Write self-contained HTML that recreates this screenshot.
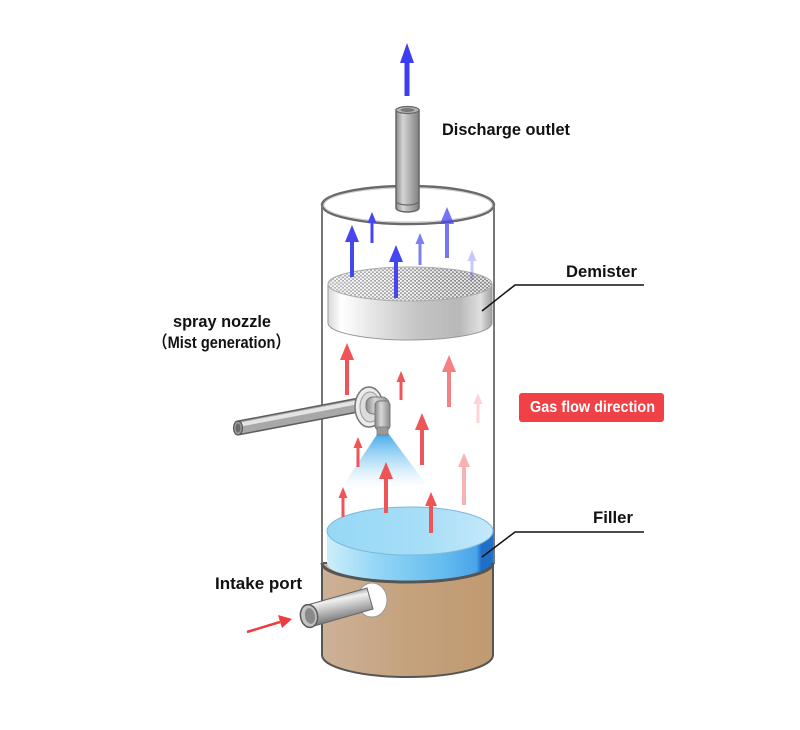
<!DOCTYPE html>
<html>
<head>
<meta charset="utf-8">
<style>
html,body{margin:0;padding:0;background:#fff;}
svg{display:block;}
text{font-family:"Liberation Sans","Noto Sans CJK JP",sans-serif;font-weight:bold;}
</style>
</head>
<body>
<svg width="800" height="730" viewBox="0 0 800 730" xmlns="http://www.w3.org/2000/svg">
<defs>
  <linearGradient id="pipeV" x1="0" y1="0" x2="1" y2="0">
    <stop offset="0" stop-color="#8a8a8a"/>
    <stop offset="0.3" stop-color="#d4d4d4"/>
    <stop offset="0.6" stop-color="#b0b0b0"/>
    <stop offset="1" stop-color="#808080"/>
  </linearGradient>
  <linearGradient id="band" x1="0" y1="0" x2="1" y2="0">
    <stop offset="0" stop-color="#d8d8d8"/>
    <stop offset="0.08" stop-color="#ffffff"/>
    <stop offset="0.3" stop-color="#e2e2e2"/>
    <stop offset="0.55" stop-color="#c4c4c4"/>
    <stop offset="0.8" stop-color="#b8b8b8"/>
    <stop offset="0.93" stop-color="#e0e0e0"/>
    <stop offset="1" stop-color="#a0a0a0"/>
  </linearGradient>
  <pattern id="mesh" width="4" height="3.5" patternUnits="userSpaceOnUse">
    <rect width="4" height="3.5" fill="#8e8e8e"/>
    <circle cx="1" cy="0.9" r="1.15" fill="#f2f2f2"/>
    <circle cx="3" cy="2.65" r="1.15" fill="#f2f2f2"/>
  </pattern>
  <linearGradient id="meshShade" x1="0" y1="0" x2="1" y2="0">
    <stop offset="0" stop-color="#fff" stop-opacity="0.35"/>
    <stop offset="0.5" stop-color="#fff" stop-opacity="0.12"/>
    <stop offset="1" stop-color="#000" stop-opacity="0.05"/>
  </linearGradient>
  <linearGradient id="fillBand" x1="0" y1="0" x2="1" y2="0">
    <stop offset="0" stop-color="#cdeefb"/>
    <stop offset="0.3" stop-color="#94d6f6"/>
    <stop offset="0.7" stop-color="#64bcee"/>
    <stop offset="0.9" stop-color="#4aa4e8"/>
    <stop offset="0.93" stop-color="#1f6fc8"/>
    <stop offset="1" stop-color="#1f6fc8"/>
  </linearGradient>
  <linearGradient id="fillTop" x1="0" y1="0" x2="1" y2="0">
    <stop offset="0" stop-color="#96d8f6"/>
    <stop offset="0.6" stop-color="#a8def7"/>
    <stop offset="1" stop-color="#c4e9fa"/>
  </linearGradient>
  <linearGradient id="brown" x1="0" y1="0" x2="1" y2="0">
    <stop offset="0" stop-color="#cdb197"/>
    <stop offset="0.5" stop-color="#c4a27d"/>
    <stop offset="1" stop-color="#c09a70"/>
  </linearGradient>
  <linearGradient id="cone" x1="0" y1="0" x2="0" y2="1">
    <stop offset="0" stop-color="#3fa8ea" stop-opacity="1"/>
    <stop offset="0.5" stop-color="#8acdf3" stop-opacity="0.6"/>
    <stop offset="1" stop-color="#d6effb" stop-opacity="0"/>
  </linearGradient>
  <linearGradient id="intakePipe" gradientUnits="userSpaceOnUse" x1="306" y1="598" x2="312" y2="628">
    <stop offset="0" stop-color="#8a8a8a"/>
    <stop offset="0.25" stop-color="#f0f0f0"/>
    <stop offset="0.6" stop-color="#b4b4b4"/>
    <stop offset="1" stop-color="#6e6e6e"/>
  </linearGradient>
  <linearGradient id="elbow" x1="0" y1="0" x2="1" y2="0">
    <stop offset="0" stop-color="#888"/>
    <stop offset="0.4" stop-color="#d8d8d8"/>
    <stop offset="1" stop-color="#8a8a8a"/>
  </linearGradient>
</defs>

<!-- brown base -->
<path d="M322,563 L322,655 A85.5,22 0 0 0 493,655 L493,563 Z" fill="url(#brown)" stroke="#555" stroke-width="2"/>

<!-- glass cylinder top rim -->
<ellipse cx="408" cy="205" rx="86" ry="19" fill="none" stroke="#6a6a6a" stroke-width="2.5"/>
<ellipse cx="408" cy="205" rx="84" ry="17" fill="none" stroke="#cfcfcf" stroke-width="1"/>
<!-- glass walls -->
<line x1="322" y1="205" x2="322" y2="564" stroke="#777" stroke-width="2"/>
<line x1="494" y1="205" x2="494" y2="564" stroke="#777" stroke-width="2"/>

<!-- outlet pipe -->
<path d="M396,110 L396,208 A11.5,4 0 0 0 419,208 L419,110 Z" fill="url(#pipeV)" stroke="#666" stroke-width="1.5"/>
<path d="M396,201 A11.5,4 0 0 0 419,201" fill="none" stroke="#666" stroke-width="1.2"/>
<ellipse cx="407.5" cy="110" rx="11.5" ry="3.5" fill="#b8b8b8" stroke="#666" stroke-width="1.2"/>
<ellipse cx="407.5" cy="110" rx="7" ry="2" fill="#7a7a7a"/>

<!-- discharge arrow -->
<polygon points="407,43 414,63 409.5,63 409.5,96 404.5,96 404.5,63 400,63" fill="#3d3df2"/>

<!-- demister -->
<path d="M328,284 L328,323 A82,17 0 0 0 492,323 L492,284 Z" fill="url(#band)" stroke="#999" stroke-width="1"/>
<ellipse cx="410" cy="284" rx="82" ry="17" fill="url(#mesh)"/>
<ellipse cx="410" cy="284" rx="82" ry="17" fill="url(#meshShade)" stroke="#aaa" stroke-width="1"/>

<!-- blue arrows -->
<g fill="#4646f0">
  <polygon points="352,225 359,242 354,242 354,277 350,277 350,242 345,242"/>
  <polygon points="372,212 376.5,223 373.5,223 373.5,243 370.5,243 370.5,223 367.5,223"/>
  <polygon points="396,245 403,262 398,262 398,298 394,298 394,262 389,262"/>
  <polygon points="420,233 424.5,244 421.5,244 421.5,265 418.5,265 418.5,244 415.5,244" opacity="0.7"/>
  <polygon points="447,207 454,224 449,224 449,258 445,258 445,224 440,224" opacity="0.75"/>
  <polygon points="472,250 476.5,261 473.5,261 473.5,280 470.5,280 470.5,261 467.5,261" opacity="0.3"/>
</g>

<!-- filler -->
<path d="M327,531 L327,563 A83,19 0 0 0 493,563 L493,531 Z" fill="url(#fillBand)"/>
<ellipse cx="410" cy="531" rx="83" ry="24" fill="url(#fillTop)" stroke="#7db8da" stroke-width="1"/>
<!-- brown top front arc -->
<path d="M322,563 A85.5,19 0 0 0 493,563" fill="none" stroke="#555" stroke-width="3"/>

<!-- spray pipe -->
<line x1="238" y1="428" x2="364" y2="404" stroke="#5e5e5e" stroke-width="15"/>
<line x1="238" y1="428" x2="364" y2="404" stroke="#a8a8a8" stroke-width="12"/>
<line x1="238" y1="425" x2="364" y2="401" stroke="#e4e4e4" stroke-width="4"/>
<ellipse cx="238" cy="428" rx="4.5" ry="7" fill="#9a9a9a" stroke="#555" stroke-width="1.2"/>
<ellipse cx="238" cy="428" rx="2.5" ry="4.5" fill="#6a6a6a"/>

<!-- spray cone -->
<polygon points="378,433 388,433 426,484 340,490" fill="url(#cone)"/>

<!-- flange -->
<ellipse cx="369" cy="407" rx="14" ry="20" fill="#ececec" stroke="#777" stroke-width="1.5"/>
<ellipse cx="370" cy="407" rx="10" ry="15" fill="#dcdcdc" stroke="#9a9a9a" stroke-width="1"/>
<!-- elbow -->
<rect x="366" y="397" width="23" height="17" rx="7" fill="url(#elbow)" stroke="#777" stroke-width="1"/>
<rect x="375" y="401" width="15" height="29" rx="4" fill="url(#elbow)" stroke="#777" stroke-width="1"/>
<rect x="377" y="427" width="11" height="8" fill="#9a9a9a" stroke="#777" stroke-width="0.8"/>

<!-- red arrows -->
<g fill="#ef5558">
  <polygon points="347,343 354,360 349,360 349,395 345,395 345,360 340,360"/>
  <polygon points="401,371 405.5,382 402.5,382 402.5,400 399.5,400 399.5,382 396.5,382"/>
  <polygon points="449,355 456,372 451,372 451,407 447,407 447,372 442,372" opacity="0.75"/>
  <polygon points="478,393 482.5,404 479.5,404 479.5,423 476.5,423 476.5,404 473.5,404" opacity="0.25"/>
  <polygon points="422,413 429,430 424,430 424,465 420,465 420,430 415,430"/>
  <polygon points="358,437 362.5,448 359.5,448 359.5,467 356.5,467 356.5,448 353.5,448"/>
  <polygon points="386,462 393,479 388,479 388,513 384,513 384,479 379,479"/>
  <polygon points="343,487 347.5,498 344.5,498 344.5,517 341.5,517 341.5,498 338.5,498"/>
  <polygon points="431,492 437,506 433,506 433,533 429,533 429,506 425,506"/>
  <polygon points="464,453 470,467 466,467 466,505 462,505 462,467 458,467" opacity="0.45"/>
</g>

<!-- intake hole and pipe -->
<ellipse cx="372" cy="600" rx="15" ry="17" fill="#fff" stroke="#999" stroke-width="1"/>
<polygon points="306,605.4 367,588 373,609 312,626.6" fill="url(#intakePipe)" stroke="#666" stroke-width="1"/>
<ellipse cx="309" cy="616" rx="8.5" ry="11.5" transform="rotate(-10 309 616)" fill="#c4c4c4" stroke="#5a5a5a" stroke-width="1.5"/>
<ellipse cx="310" cy="616" rx="5" ry="8" transform="rotate(-10 310 616)" fill="#8a8a8a"/>

<!-- intake arrow -->
<line x1="247" y1="632" x2="280" y2="622" stroke="#ee3b3f" stroke-width="2.5"/>
<polygon points="292,619 278,615 282,628" fill="#ee3b3f"/>

<!-- leader lines -->
<polyline points="482,311 515,285 644,285" fill="none" stroke="#111" stroke-width="1.5"/>
<polyline points="482,557 515,532 644,532" fill="none" stroke="#111" stroke-width="1.5"/>

<!-- gas flow label -->
<rect x="519" y="393" width="145" height="29" rx="3" fill="#ef4146"/>
<text x="530" y="412" font-size="16" fill="#fff" textLength="125" lengthAdjust="spacingAndGlyphs">Gas flow direction</text>

<!-- labels -->
<text x="442" y="135" font-size="17" fill="#111" textLength="128" lengthAdjust="spacingAndGlyphs">Discharge outlet</text>
<text x="566" y="277" font-size="17" fill="#111" textLength="71" lengthAdjust="spacingAndGlyphs">Demister</text>
<text x="173" y="327" font-size="17" fill="#111" textLength="98" lengthAdjust="spacingAndGlyphs">spray nozzle</text>
<text x="153" y="348" font-size="17" fill="#111" textLength="137" lengthAdjust="spacingAndGlyphs">（Mist generation）</text>
<text x="593" y="523" font-size="17" fill="#111" textLength="40" lengthAdjust="spacingAndGlyphs">Filler</text>
<text x="215" y="589" font-size="17" fill="#111" textLength="87" lengthAdjust="spacingAndGlyphs">Intake port</text>
</svg>
</body>
</html>
